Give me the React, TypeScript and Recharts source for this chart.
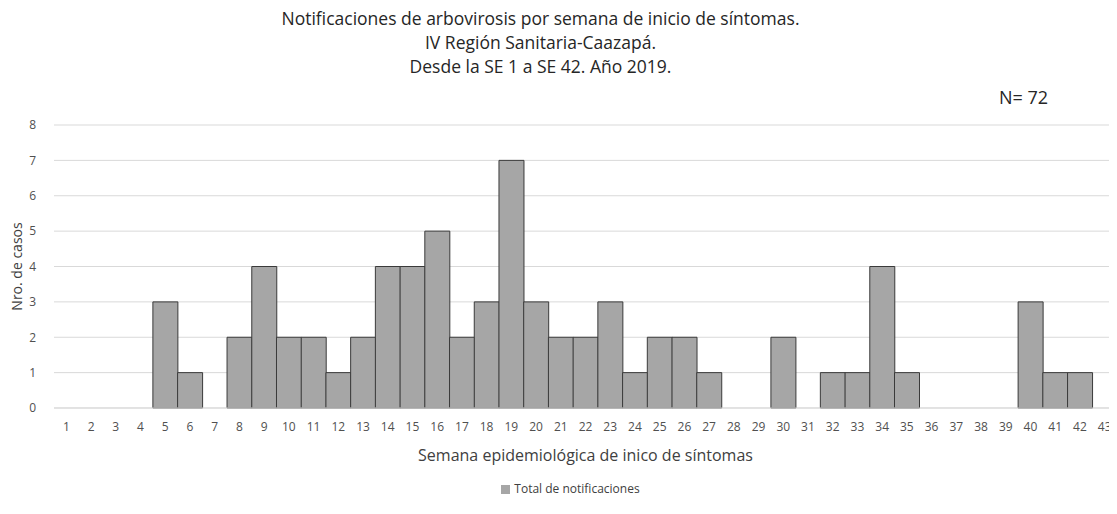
import { BarChart, Bar, XAxis, YAxis, CartesianGrid, Legend, Label } from "recharts";

const FONT = "'Open Sans', 'Noto Sans', sans-serif";

const weeks = Array.from({ length: 43 }, (_, i) => String(i + 1));
const notifications = [
  0, 0, 0, 0, 3, 1, 0, 2, 4, 2,
  2, 1, 2, 4, 4, 5, 2, 3, 7, 3,
  2, 2, 3, 1, 2, 2, 1, 0, 0, 2,
  0, 1, 1, 4, 1, 0, 0, 0, 0, 3,
  1, 1, 0,
];
const yTicks = [0, 1, 2, 3, 4, 5, 6, 7, 8];
const titleLines = [
  "Notificaciones de arbovirosis por semana de inicio de síntomas.",
  "IV Región Sanitaria-Caazapá.",
  "Desde la SE 1 a SE 42. Año 2019.",
];

const data = weeks.map((w, i) => ({ week: w, total: notifications[i] }));

export default function App() {
  return (
    <div style={{ position: "relative", margin: -8, width: 1117, height: 514, background: "#fff", fontFamily: FONT }}>
      <div style={{ position: "absolute", top: 6, left: -18, width: 1117, textAlign: "center", fontSize: 17.5, lineHeight: "24px", color: "#262626" }}>
        {titleLines.map((t) => (
          <div key={t}>{t}</div>
        ))}
      </div>
      <div style={{ position: "absolute", top: 85, left: 999, fontSize: 18, color: "#262626" }}>N= 72</div>
      <BarChart
        width={1117}
        height={514}
        data={data}
        margin={{ top: 125, right: 0, left: 0, bottom: 0 }}
        barCategoryGap={0}
      >
        <CartesianGrid vertical={false} stroke="#d9d9d9" />
        <XAxis
          dataKey="week"
          height={72}
          interval={0}
          tickLine={false}
          axisLine={{ stroke: "#d9d9d9" }}
          fontSize={12}
          tick={{ fontSize: 12, fill: "#505050", fontFamily: FONT }}
          tickMargin={8}
        >
          <Label
            value="Semana epidemiológica de inico de síntomas"
            position="insideBottom"
            offset={19}
            style={{ fontSize: 16, fill: "#404040", fontFamily: FONT }}
          />
        </XAxis>
        <YAxis
          width={54}
          domain={[0, 8]}
          ticks={yTicks}
          axisLine={false}
          tickLine={false}
          fontSize={12}
          tickMargin={12}
          tick={{ fontSize: 12, fill: "#505050", fontFamily: FONT }}
        >
          <Label
            value="Nro. de casos"
            angle={-90}
            position="insideLeft"
            offset={17}
            style={{ textAnchor: "middle", fontSize: 14, fill: "#404040", fontFamily: FONT }}
          />
        </YAxis>
        <Legend
          verticalAlign="bottom"
          height={34}
          iconType="square"
          iconSize={9}
          wrapperStyle={{ fontSize: 12, fontFamily: FONT, left: 17 }}
          formatter={(v) => <span style={{ color: "#404040" }}>{v}</span>}
        />
        <Bar
          dataKey="total"
          name="Total de notificaciones"
          fill="#a6a6a6"
          stroke="#3a3a3a"
          strokeWidth={1}
          isAnimationActive={false}
        />
      </BarChart>
    </div>
  );
}
